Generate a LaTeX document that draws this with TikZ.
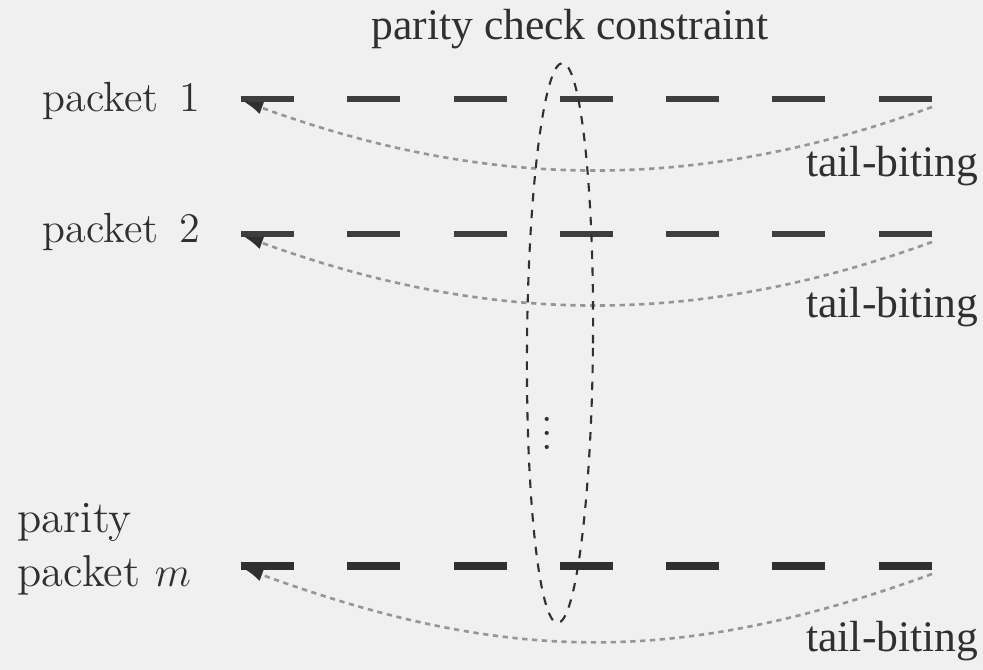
\documentclass[tikz,border=0pt]{standalone}
\usepackage{amsmath,amssymb}
\usepackage{fontspec}
\newfontfamily\timesfont{Liberation Serif}
\usepackage{tikz}
\usetikzlibrary{arrows.meta,positioning,shapes.geometric}
\definecolor{scangray}{RGB}{240,240,240}
\definecolor{inkdark}{RGB}{48,48,48}
\definecolor{segdark}{RGB}{62,62,62}
\definecolor{curvegray}{RGB}{150,150,150}
\tikzset{
  pktlabel/.style={inner sep=0pt, text=inkdark, font=\fontsize{12}{14}\selectfont},
  paritylabel/.style={inner sep=0pt, text=inkdark, align=left,
                      font=\fontsize{12.7}{15.4}\selectfont},
  tblabel/.style={inner sep=0pt, text=inkdark, font=\timesfont\fontsize{12.4}{14}\selectfont},
  seg/.style={draw=segdark, line width=1.5pt},
  thickseg/.style={draw=inkdark, line width=2.3pt},
  tailarrow/.style={draw=curvegray, line width=0.75pt, dash pattern=on 1.5pt off 1.3pt,
                    -{Latex[length=2.0mm, width=1.3mm, inkdark]}},
  constraint/.style={draw=inkdark, ellipse, dash pattern=on 2.4pt off 2.4pt,
                     line width=0.6pt, inner sep=0pt},
}
\begin{document}
\begin{tikzpicture}
\fill[scangray] (0,0) rectangle (9.83,6.70);
\useasboundingbox (0,0) rectangle (9.83,6.70);

% ---------------- title ----------------
\node[tblabel, anchor=base] (pcc) at (5.70,6.30) {parity check constraint};

% ---------------- packet labels ----------------
\node[pktlabel, anchor=base east] (lab1) at (2.01,5.58) {packet\enspace 1};
\node[pktlabel, anchor=base east] (lab2) at (2.01,4.27) {packet\enspace 2};
\node[paritylabel, anchor=north west] (labm) at (0.17,1.67) {parity\\packet $m$};

% ---------------- packet segments ----------------
% seven blocks per packet, the parity packet drawn heavier
\foreach \r/\y/\sty in {1/5.71/seg, 2/4.36/seg, m/1.04/thickseg} {
  \foreach \k in {1,...,7} {
    \coordinate (s\r-\k-a) at ({2.41+1.063*(\k-1)},\y);
    \coordinate (s\r-\k-b) at ({2.94+1.063*(\k-1)},\y);
    \draw[\sty] (s\r-\k-a) -- (s\r-\k-b);
  }
  \coordinate (t\r) at (9.32,\y-0.08);
  \coordinate (h\r) at (2.43,\y-0.02);
}

% ---------------- tail-biting loops ----------------
\draw[tailarrow] (t1) to[out=200, in=-20, looseness=0.95] (h1);
\draw[tailarrow] (t2) to[out=200, in=-20, looseness=0.95] (h2);
\draw[tailarrow] (tm) to[out=200, in=-20, looseness=1.02] (hm);

\node[tblabel, anchor=base east] (tb1) at (9.79,4.93) {tail-biting};
\node[tblabel, anchor=base east] (tb2) at (9.79,3.52) {tail-biting};
\node[tblabel, anchor=base east] (tbm) at (9.79,0.18) {tail-biting};

% ---------------- constraint across packets ----------------
\node[constraint, minimum width=0.66cm, minimum height=5.60cm, rotate=-0.5] (pc)
  at (5.60,3.27) {};
\node[text=inkdark, font=\fontsize{12}{14}\selectfont, inner sep=0pt] (vd)
  at (5.47,2.47) {$\vdots$};
\end{tikzpicture}
\end{document}
